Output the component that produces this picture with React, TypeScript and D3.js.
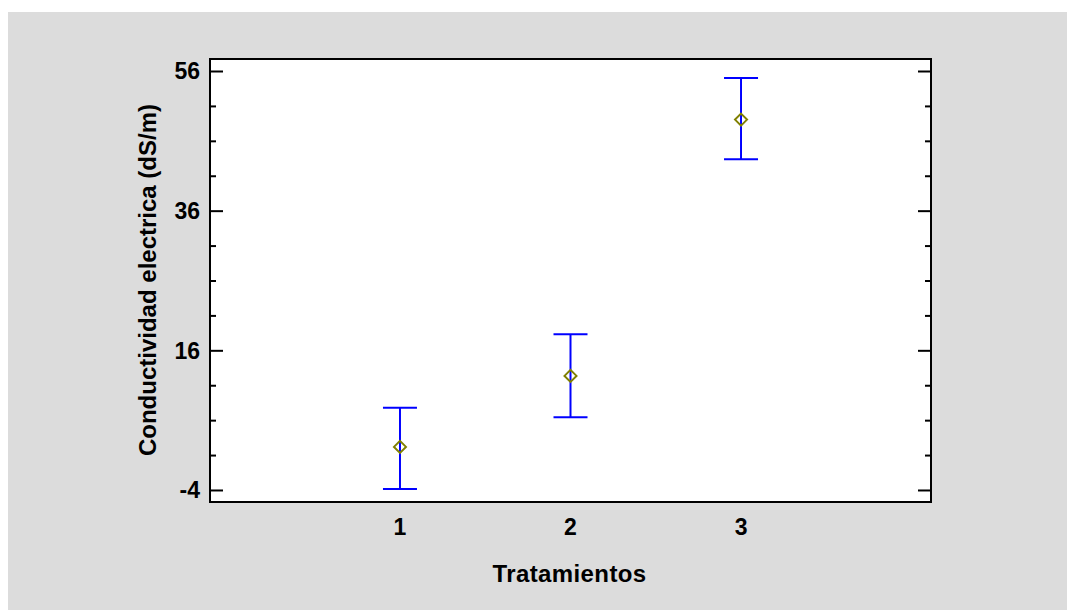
import React from "react";
import * as d3 from "d3";

// Treatment means with their interval limits (dS/m)
const treatments = [1, 2, 3];
const means = [2.24, 12.41, 49.11];
const lowerLimits = [-3.8, 6.5, 43.45];
const upperLimits = [7.83, 18.38, 55.07];

const majorTicks = [-4, 16, 36, 56];
const minorTicks = [1, 6, 11, 21, 26, 31, 41, 46, 51];

const W = 1067;
const H = 610;
const frame = { left: 210, right: 931, top: 59, bottom: 502 };

export default function App() {
  const x = d3.scaleLinear().domain([-0.114, 4.114]).range([frame.left, frame.right]);
  const y = d3.scaleLinear().domain([-5.65, 57.79]).range([frame.bottom, frame.top]);
  const capHalf = 17;
  const diamond = 6;
  const font = "'Liberation Sans', Arial, sans-serif";

  return (
    <svg
      width={W}
      height={H}
      style={{ position: "absolute", left: 0, top: 0 }}
      fontFamily={font}
    >
      <rect x={0} y={0} width={W} height={H} fill="#ffffff" />
      <rect x={8} y={12} width={W - 8} height={H - 12} fill="#dcdcdc" />
      <rect
        x={frame.left}
        y={frame.top}
        width={frame.right - frame.left}
        height={frame.bottom - frame.top}
        fill="#ffffff"
        stroke="#000"
        strokeWidth={2}
      />
      {/* y-axis ticks, drawn inward on both sides */}
      {majorTicks.map((t) => (
        <g key={"M" + t}>
          <line x1={frame.left} x2={frame.left + 13} y1={y(t)} y2={y(t)} stroke="#000" strokeWidth={2} />
          <line x1={frame.right} x2={frame.right - 13} y1={y(t)} y2={y(t)} stroke="#000" strokeWidth={2} />
          <text
            x={frame.left - 10}
            y={y(t)}
            textAnchor="end"
            dominantBaseline="central"
            fontSize={23}
            fontWeight="bold"
            fill="#000"
          >
            {t}
          </text>
        </g>
      ))}
      {minorTicks.map((t) => (
        <g key={"m" + t}>
          <line x1={frame.left} x2={frame.left + 6} y1={y(t)} y2={y(t)} stroke="#000" strokeWidth={2} />
          <line x1={frame.right} x2={frame.right - 6} y1={y(t)} y2={y(t)} stroke="#000" strokeWidth={2} />
        </g>
      ))}
      {/* x-axis category labels */}
      {treatments.map((t) => (
        <text
          key={"x" + t}
          x={x(t)}
          y={535}
          textAnchor="middle"
          fontSize={23}
          fontWeight="bold"
          fill="#000"
        >
          {t}
        </text>
      ))}
      {/* intervals and means */}
      {treatments.map((t, i) => {
        const cx = x(t);
        const cy = y(means[i]);
        return (
          <g key={"e" + t}>
            <line x1={cx} x2={cx} y1={y(upperLimits[i])} y2={y(lowerLimits[i])} stroke="#0000ff" strokeWidth={2} />
            <line x1={cx - capHalf} x2={cx + capHalf} y1={y(upperLimits[i])} y2={y(upperLimits[i])} stroke="#0000ff" strokeWidth={2} />
            <line x1={cx - capHalf} x2={cx + capHalf} y1={y(lowerLimits[i])} y2={y(lowerLimits[i])} stroke="#0000ff" strokeWidth={2} />
            <path
              d={`M${cx},${cy - diamond} L${cx + diamond},${cy} L${cx},${cy + diamond} L${cx - diamond},${cy} Z`}
              fill="none"
              stroke="#808000"
              strokeWidth={2}
            />
          </g>
        );
      })}
      <text
        x={569.5}
        y={582}
        textAnchor="middle"
        fontSize={24}
        fontWeight="bold"
        letterSpacing={0.4}
        fill="#000"
      >
        Tratamientos
      </text>
      <text
        transform={`translate(156,280) rotate(-90)`}
        textAnchor="middle"
        fontSize={24}
        fontWeight="bold"
        fill="#000"
      >
        Conductividad electrica (dS/m)
      </text>
    </svg>
  );
}
